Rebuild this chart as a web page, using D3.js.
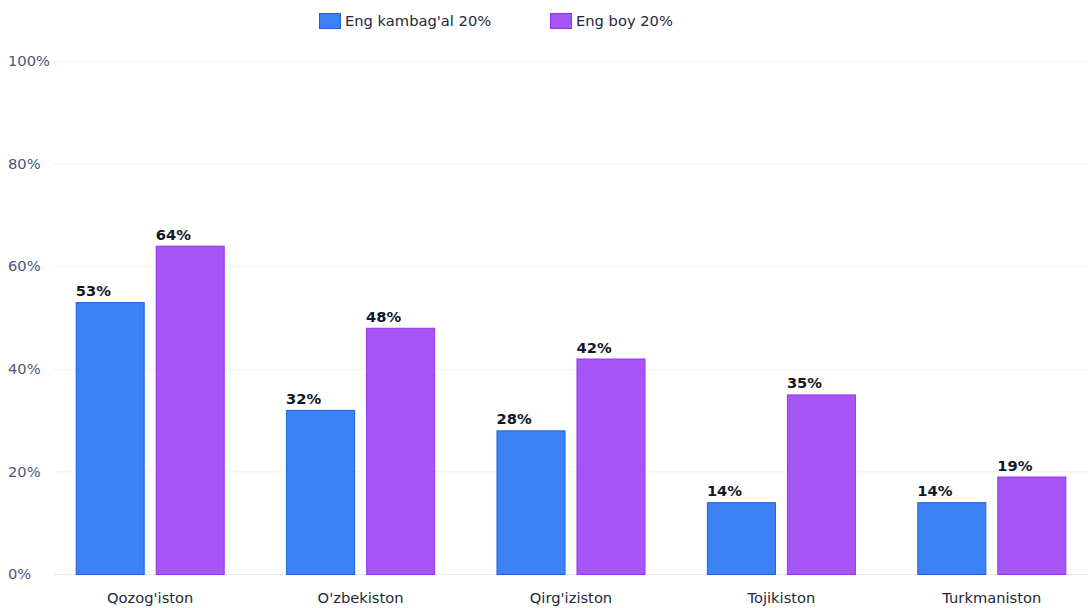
<!DOCTYPE html>
<html>
<head>
<meta charset="utf-8">
<script src="https://cdn.jsdelivr.net/npm/d3@7/dist/d3.min.js"></script>
<style>
  body { margin: 0; background: #fff; }
  text { font-family: "DejaVu Sans", sans-serif; }
</style>
</head>
<body>
<div id="chart"></div>
<script>
const countries = ["Qozog'iston", "O'zbekiston", "Qirg'iziston", "Tojikiston", "Turkmaniston"],
  poorest = [53, 32, 28, 14, 14],
  richest = [64, 48, 42, 35, 19],
  seriesNames = ["Eng kambag'al 20%", "Eng boy 20%"],
  yTicks = [0, 20, 40, 60, 80, 100];

const WIDTH = 1088,
  HEIGHT = 608,
  FONT = 14.7,
  fills = ["#3b82f6", "#a855f7"],
  strokes = ["#1d5fd8", "#9333ea"];

const svg = d3.select("#chart").append("svg")
  .attr("width", WIDTH)
  .attr("height", HEIGHT);

const x = d3.scaleBand()
  .domain(countries)
  .range([45, 1097]);

const y = d3.scaleLinear()
  .domain([0, 100])
  .range([574, 61]);

const barW = 69, gap = 11;

// grid
svg.append("g")
  .selectAll("line")
  .data(yTicks)
  .enter()
  .append("line")
  .attr("x1", 54)
  .attr("x2", WIDTH)
  .attr("y1", d => y(d) + 0.5)
  .attr("y2", d => y(d) + 0.5)
  .attr("stroke", d => d === 0 ? "#e6e9f0" : "#eff1f5")
  .attr("stroke-width", 1);

// y tick labels
svg.append("g")
  .selectAll("text")
  .data(yTicks)
  .enter()
  .append("text")
  .attr("x", 8)
  .attr("y", d => y(d))
  .attr("dy", "0.35em")
  .attr("font-size", FONT)
  .attr("fill", "#4a5878")
  .text(d => d + "%");

// x labels
svg.append("g")
  .selectAll("text")
  .data(countries)
  .enter()
  .append("text")
  .attr("x", d => x(d) + x.bandwidth() / 2)
  .attr("y", 598)
  .attr("dy", "0.35em")
  .attr("text-anchor", "middle")
  .attr("font-size", FONT)
  .attr("fill", "#1f2937")
  .text(d => d);

// bars
const series = [poorest, richest];
series.forEach((vals, s) => {
  const g = svg.append("g");
  const offset = s === 0 ? -(gap / 2) - barW : gap / 2;
  g.selectAll("rect")
    .data(vals)
    .enter()
    .append("rect")
    .attr("x", (d, i) => x(countries[i]) + x.bandwidth() / 2 + offset + 0.5)
    .attr("y", d => y(d) + 0.5)
    .attr("width", barW - 1)
    .attr("height", d => y(0) - y(d))
    .attr("fill", fills[s])
    .attr("stroke", strokes[s])
    .attr("stroke-width", 1);

  g.selectAll("text")
    .data(vals)
    .enter()
    .append("text")
    .attr("x", (d, i) => x(countries[i]) + x.bandwidth() / 2 + offset)
    .attr("y", d => y(d) - 6)
    .attr("font-size", FONT)
    .attr("font-weight", "bold")
    .attr("fill", "#111827")
    .text(d => d + "%");
});

// legend
const legendX = [319, 550];
const legend = svg.append("g")
  .selectAll("g")
  .data(seriesNames)
  .enter()
  .append("g")
  .attr("transform", (d, i) => `translate(${legendX[i]},13)`);

legend.append("rect")
  .attr("x", 0.5)
  .attr("y", 0.5)
  .attr("width", 21)
  .attr("height", 15)
  .attr("fill", (d, i) => fills[i])
  .attr("stroke", (d, i) => strokes[i]);

legend.append("text")
  .attr("x", 26)
  .attr("y", 8)
  .attr("dy", "0.35em")
  .attr("font-size", FONT)
  .attr("fill", "#1e293b")
  .text(d => d);
</script>
</body>
</html>
